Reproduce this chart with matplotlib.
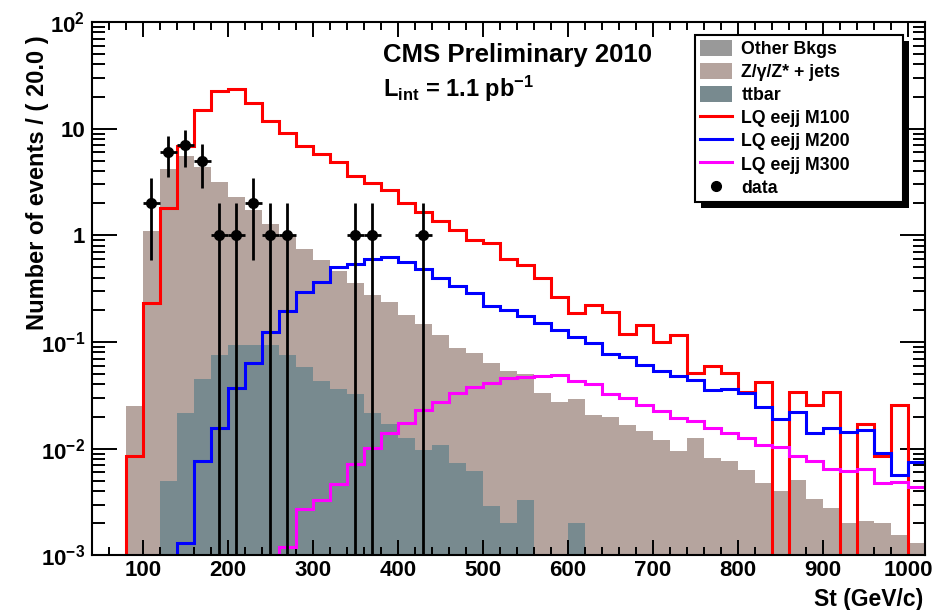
import numpy as np
import matplotlib
matplotlib.use('Agg')
import matplotlib.pyplot as plt
from matplotlib.patches import Patch, Rectangle
from matplotlib.lines import Line2D
from matplotlib.ticker import MultipleLocator, LogLocator, NullFormatter

plt.rcParams['font.family'] = ['Liberation Sans', 'DejaVu Sans']
plt.rcParams['font.weight'] = 'bold'
plt.rcParams['axes.labelweight'] = 'bold'
plt.rcParams['mathtext.fontset'] = 'custom'
plt.rcParams['mathtext.rm'] = 'Liberation Sans:bold'
plt.rcParams['mathtext.bf'] = 'Liberation Sans:bold'
plt.rcParams['mathtext.it'] = 'Liberation Sans:bold'

# St bins, 20 GeV wide, 40 -> 1020
edges = np.arange(40, 1021, 20)

ttbar = [0, 0, 0, 0, 0.005, 0.0214, 0.0447, 0.0755, 0.094, 0.094, 0.094, 0.0755,
         0.0587, 0.0434, 0.0362, 0.0326, 0.0218, 0.017, 0.0127, 0.0097, 0.0108,
         0.0073, 0.0062, 0.0029, 0.0020, 0.0033, 0, 0, 0.0020,
         0, 0, 0, 0, 0, 0, 0, 0, 0, 0, 0, 0, 0, 0, 0, 0, 0, 0, 0, 0]
zjets = [0, 0, 0.025, 1.1, 4.2, 5.48, 4.36, 3.10, 2.21, 1.64, 1.19, 0.92, 0.68,
         0.547, 0.43, 0.327, 0.254, 0.218, 0.166, 0.137, 0.105, 0.080, 0.073,
         0.061, 0.051, 0.0465, 0.033, 0.0276, 0.027, 0.0207, 0.0197, 0.0167,
         0.0148, 0.0121, 0.0096, 0.0125, 0.0082, 0.0077, 0.0063, 0.0048, 0.0040,
         0.0051, 0.0034, 0.0028, 0.0020, 0.0021, 0.0020, 0.00155, 0.0013]
other = [0] * 49

lq_m100 = [0, 0, 0.0086, 0.23, 1.81, 6.9, 14.9, 22.5, 23.4, 17.3, 11.8, 9.2, 6.9,
           5.8, 4.9, 3.6, 3.1, 2.66, 2.02, 1.64, 1.37, 1.12, 0.90, 0.84, 0.60,
           0.53, 0.40, 0.266, 0.186, 0.222, 0.192, 0.12, 0.144, 0.10, 0.116,
           0.051, 0.060, 0.051, 0.034, 0.042, 0, 0.034, 0.0257, 0.034, 0, 0.017,
           0.0085, 0.0257, 0]
lq_m200 = [0, 0, 0, 0, 0, 0.0013, 0.0077, 0.0158, 0.0368, 0.063, 0.125, 0.197,
           0.296, 0.367, 0.50, 0.54, 0.60, 0.63, 0.565, 0.48, 0.40, 0.335, 0.286,
           0.217, 0.20, 0.175, 0.150, 0.131, 0.112, 0.0986, 0.078, 0.073, 0.061,
           0.054, 0.048, 0.044, 0.0355, 0.036, 0.033, 0.0244, 0.0188, 0.0222,
           0.0141, 0.0155, 0.0144, 0.015, 0.0092, 0.0057, 0.0075]
lq_m300 = [0, 0, 0, 0, 0, 0, 0, 0, 0, 0, 0, 0.0012, 0.0027, 0.0033, 0.0047,
           0.0072, 0.0101, 0.0139, 0.0173, 0.023, 0.0276, 0.0335, 0.0376, 0.041,
           0.0457, 0.0467, 0.0483, 0.049, 0.0434, 0.040, 0.0325, 0.0296, 0.0257,
           0.0227, 0.0193, 0.0183, 0.0155, 0.0141, 0.0125, 0.0108, 0.0104,
           0.0085, 0.0077, 0.0065, 0.0062, 0.0065, 0.0048, 0.0049, 0.0044]

data_x = [110, 130, 150, 170, 190, 210, 230, 250, 270, 350, 370, 430]
data_n = [2, 6, 7, 5, 1, 1, 2, 1, 1, 1, 1, 1]

c_other = '#999999'
c_zjets = '#b5a49e'
c_ttbar = '#788a8f'

fig = plt.figure(figsize=(9.37, 6.1), dpi=100)
ax = fig.add_axes([92 / 937, 1 - 555.4 / 610, 833 / 937, 533.4 / 610])

# stacked backgrounds: ttbar at the bottom, Z+jets, then others on top
s1 = np.array(ttbar)
s2 = s1 + np.array(zjets)
s3 = s2 + np.array(other)
ax.stairs(s3, edges, fill=True, color=c_other, baseline=1e-6, zorder=1)
ax.stairs(s2, edges, fill=True, color=c_zjets, baseline=1e-6, zorder=1.1)
ax.stairs(s1, edges, fill=True, color=c_ttbar, baseline=1e-6, zorder=1.2)

ax.stairs(lq_m100, edges, color='#ff0000', lw=2.2, baseline=None, zorder=2)
ax.stairs(lq_m200, edges, color='#0000ff', lw=2.2, baseline=None, zorder=2)
ax.stairs(lq_m300, edges, color='#ff00ff', lw=2.2, baseline=None, zorder=2)

n = np.array(data_n, dtype=float)
ax.errorbar(data_x, n, yerr=np.sqrt(n), xerr=10, fmt='o', color='black',
            ms=7, elinewidth=2, capsize=0, zorder=3)

ax.set_yscale('log')
ax.set_xlim(40, 1020)
ax.set_ylim(1e-3, 1e2)

ax.set_xticks(range(100, 1001, 100))
ax.xaxis.set_minor_locator(MultipleLocator(20))
ax.set_yticks([1e-3, 1e-2, 1e-1, 1, 10, 100],
              labels=[r'$10^{-3}$', r'$10^{-2}$', r'$10^{-1}$', '1', '10', r'$10^{2}$'])
ax.yaxis.set_minor_locator(LogLocator(base=10, subs=np.arange(2, 10)))
ax.yaxis.set_minor_formatter(NullFormatter())

ax.tick_params(which='both', direction='in', top=True, right=True, width=1.4,
               labelsize=16)
ax.tick_params(axis='x', which='major', length=11, pad=3)
ax.tick_params(axis='x', which='minor', length=5.5)
ax.tick_params(axis='y', which='major', length=18, pad=5)
ax.tick_params(axis='y', which='minor', length=9)
for lbl in ax.get_xticklabels() + ax.get_yticklabels():
    lbl.set_fontweight('bold')
for sp in ax.spines.values():
    sp.set_linewidth(1.5)

ax.set_xlabel('St (GeV/c)', fontsize=16.5, fontweight='bold', loc='right')
ax.xaxis.set_label_coords(0.998, -0.062)
ax.set_ylabel('Number of events / ( 20.0 )', fontsize=17, fontweight='bold',
              loc='top')
ax.yaxis.set_label_coords(-0.052, 0.975)

ax.text(0.349, 0.9256, 'CMS Preliminary 2010', transform=ax.transAxes,
        fontsize=18.5, va='baseline')
ax.text(0.349, 0.86, r'L$_{\rm int}$ = 1.1 pb$^{-1}$', transform=ax.transAxes,
        fontsize=17, va='baseline')

handles = [Patch(facecolor=c_other, edgecolor='none'),
           Patch(facecolor=c_zjets, edgecolor='none'),
           Patch(facecolor=c_ttbar, edgecolor='none'),
           Line2D([], [], color='#ff0000', lw=2.2),
           Line2D([], [], color='#0000ff', lw=2.2),
           Line2D([], [], color='#ff00ff', lw=2.2),
           Line2D([], [], color='black', marker='o', ls='none', ms=7)]
labels = ['Other Bkgs', 'Z/γ/Z* + jets', 'ttbar', 'LQ eejj M100',
          'LQ eejj M200', 'LQ eejj M300', 'data']
leg = ax.legend(handles, labels, loc='upper left', mode='expand',
                bbox_to_anchor=(0.724, 0.6, 0.2497, 0.3756),
                borderaxespad=0, frameon=True, fancybox=False, edgecolor='black',
                framealpha=1, fontsize=12.8, handlelength=1.75, handleheight=1.0,
                labelspacing=0.28, handletextpad=0.55, borderpad=0.3)
leg.get_frame().set_linewidth(1.5)

# ROOT style solid shadow under the legend box
fig.canvas.draw()
bb = leg.get_window_extent().transformed(ax.transAxes.inverted())
ax.add_patch(Rectangle((bb.x0 + 6 / 833, bb.y0 - 6 / 533.4), bb.width, bb.height,
                       transform=ax.transAxes, facecolor='black', edgecolor='none',
                       zorder=4.9, clip_on=False))
ax.set_xlim(40, 1020)
ax.set_ylim(1e-3, 1e2)

fig.savefig('out.png', dpi=100)
